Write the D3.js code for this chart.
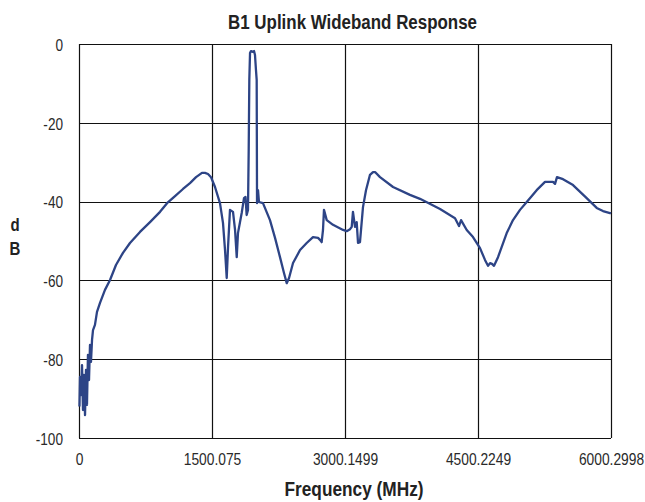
<!DOCTYPE html>
<html><head><meta charset="utf-8">
<script src="https://cdn.jsdelivr.net/npm/d3@7"></script>
<style>
body{margin:0;background:#fff;}
text{font-family:"Liberation Sans",Arial,sans-serif;}
</style></head>
<body><svg id="c" width="645" height="502"></svg>
<script>
const freqMHz = [5,11,23,34,45,56,68,79,90,101,113,124,135,147,158,180,203,237,293,350,417,496,575,688,801,914,993,1083,1173,1252,1320,1387,1421,1455,1489,1534,1590,1624,1647,1666,1681,1703,1737,1760,1779,1793,1835,1861,1878,1891,1906,1914,1921,1929,1940,1963,1974,1985,1996,2004,2008,2019,2030,2075,2154,2211,2267,2312,2343,2369,2414,2493,2568,2639,2696,2718,2737,2752,2763,2794,2865,2978,3019,3057,3076,3090,3113,3132,3147,3169,3203,3237,3282,3316,3339,3395,3542,3733,3846,4072,4241,4286,4309,4373,4444,4523,4579,4613,4636,4658,4681,4726,4824,4895,4974,5050,5162,5256,5346,5369,5391,5459,5572,5726,5839,5910,5989,6000];
const responseDb = [-92,-84.5,-89.1,-81.5,-92.9,-84.0,-94.2,-82.7,-91.6,-78.9,-85.3,-76.4,-80.7,-75.1,-72.6,-71.3,-68.0,-65.7,-62.4,-59.9,-56.1,-53.0,-50.5,-47.7,-45.2,-42.6,-40.4,-38.6,-36.8,-35.3,-33.8,-32.7,-32.7,-33.0,-33.8,-36.3,-40.4,-45.4,-52.3,-59.4,-51.5,-42.1,-42.6,-47.2,-54.1,-48.0,-42.9,-39.1,-38.8,-43.4,-42.1,-26.9,-9.1,-2.3,-1.8,-2.0,-1.8,-2.8,-6.6,-9.1,-40.4,-37.1,-40.1,-40.4,-44.7,-49.2,-54.1,-58.1,-60.7,-59.4,-55.6,-52.3,-50.5,-49.0,-49.2,-49.7,-50.3,-47.2,-42.1,-44.7,-45.9,-47.2,-47.5,-47.0,-46.4,-42.6,-46.4,-45.2,-50.5,-50.3,-41.4,-37.1,-33.2,-32.5,-32.5,-33.8,-36.3,-38.3,-39.3,-41.9,-44.2,-46.2,-44.7,-47.2,-49.0,-51.8,-54.8,-56.3,-55.6,-55.8,-56.3,-54.1,-48.0,-44.7,-42.1,-40.1,-37.1,-35.0,-35.0,-35.5,-33.8,-34.3,-35.8,-39.1,-41.6,-42.4,-42.9,-43.0];
const xTicks = [0,1500.075,3000.1499,4500.2249,6000.2998];
const xTickLabels = ["0","1500.075","3000.1499","4500.2249","6000.2998"];
const yTicks = [0,-20,-40,-60,-80,-100];
const yTickLabels = ["0","-20","-40","-60","-80","-100"];
const title = "B1 Uplink Wideband Response";
const xTitle = "Frequency (MHz)";
const yTitleChars = ["d","B"];

const svg = d3.select("#c");
const L=79, R=611, T=44, B=438;
const SY = 1.2; // vertical stretch of the text glyphs
const x = d3.scaleLinear().domain([0,6000.2998]).range([L,R]);
const y = d3.scaleLinear().domain([-100,0]).range([B,T]);

// grid
const g = svg.append("g");
g.selectAll(".vg").data(xTicks).enter().append("line")
  .attr("x1",d=>Math.round(x(d))+0.5).attr("x2",d=>Math.round(x(d))+0.5)
  .attr("y1",T).attr("y2",B).attr("stroke","#111").attr("stroke-width",1.2);
g.selectAll(".hg").data(yTicks).enter().append("line")
  .attr("y1",d=>Math.round(y(d))+0.5).attr("y2",d=>Math.round(y(d))+0.5)
  .attr("x1",L).attr("x2",R).attr("stroke","#111").attr("stroke-width",1.2);

// axes (labels only)
const xa = svg.append("g").attr("transform",`translate(0,${B})`)
  .call(d3.axisBottom(x).tickValues(xTicks).tickFormat((d,i)=>xTickLabels[i]).tickSize(0));
xa.select(".domain").remove();
xa.selectAll("text").attr("y",null).attr("dy",null)
  .attr("transform",`translate(0,27) scale(1,${SY})`)
  .attr("font-size",13.8).attr("fill","#2a2a2a").attr("font-family","Liberation Sans, Arial");
const ya = svg.append("g").attr("transform",`translate(${L},0)`)
  .call(d3.axisLeft(y).tickValues(yTicks).tickFormat((d,i)=>yTickLabels[i]).tickSize(0));
ya.select(".domain").remove();
ya.selectAll("text").attr("x",null).attr("dy",null)
  .attr("transform",`translate(-16,6.3) scale(1,${SY})`)
  .attr("font-size",13.6).attr("fill","#2a2a2a").attr("font-family","Liberation Sans, Arial");

// line
const line = d3.line().x((d,i)=>x(freqMHz[i])).y(d=>y(d));
svg.append("path").datum(responseDb).attr("d",line)
  .attr("fill","none").attr("stroke","#2d4486").attr("stroke-width",2.3).attr("stroke-linejoin","round");

// titles
svg.append("text").attr("transform",`translate(352.5,29) scale(1,${SY})`).attr("text-anchor","middle")
  .attr("font-size",16.5).attr("font-weight","bold").attr("fill","#222")
  .attr("textLength",249).attr("lengthAdjust","spacingAndGlyphs").text(title);
svg.append("text").attr("transform",`translate(354,496) scale(1,${SY})`).attr("text-anchor","middle")
  .attr("font-size",16.5).attr("font-weight","bold").attr("fill","#222")
  .attr("textLength",139).attr("lengthAdjust","spacingAndGlyphs").text(xTitle);
svg.selectAll(".yt").data(yTitleChars).enter().append("text")
  .attr("transform",(d,i)=>`translate(15,${231+i*24}) scale(1,${SY})`).attr("text-anchor","middle")
  .attr("font-size",15).attr("font-weight","bold").attr("fill","#222").text(d=>d);
</script></body></html>
